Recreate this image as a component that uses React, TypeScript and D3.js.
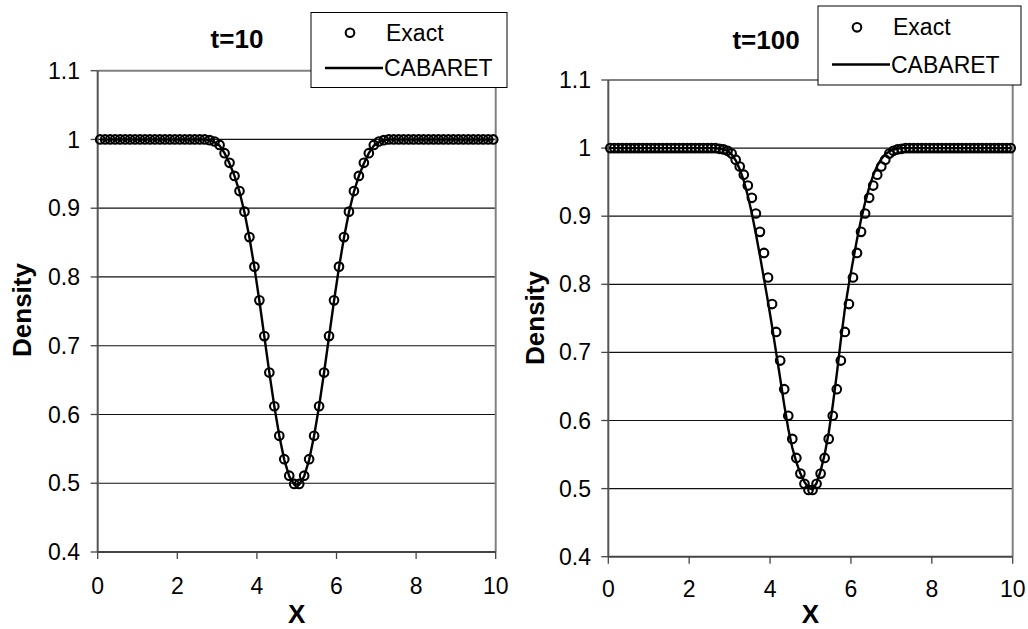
import React from "react";
import * as d3 from "d3";

// ---------- data ----------
const xTickValues = [0, 2, 4, 6, 8, 10];
const yTickValues = [0.4, 0.5, 0.6, 0.7, 0.8, 0.9, 1.0, 1.1];
const yTickLabels = ["0.4", "0.5", "0.6", "0.7", "0.8", "0.9", "1", "1.1"];
const gridValues = [0.5, 0.6, 0.7, 0.8, 0.9, 1.0];

// t=10 : 80 cells, dx = 0.125
const xT10 = d3.range(80).map((i) => 0.0625 + 0.125 * i);
const exactT10 = [
  1, 1, 1, 1, 1, 1, 1, 1, 1, 1, 1, 1, 1, 1, 1, 1, 1, 1, 1, 1, 1, 1,
  0.999, 0.997, 0.992, 0.98, 0.966, 0.947, 0.925, 0.895, 0.858, 0.815, 0.766, 0.714, 0.661, 0.612, 0.569, 0.535, 0.511, 0.499,
  0.499, 0.511, 0.535, 0.569, 0.612, 0.661, 0.714, 0.766, 0.815, 0.858, 0.895, 0.925, 0.947, 0.966, 0.98, 0.992, 0.997, 0.999,
  1, 1, 1, 1, 1, 1, 1, 1, 1, 1, 1, 1, 1, 1, 1, 1, 1, 1, 1, 1, 1, 1,
];
const cabaretT10 = [
  1, 1, 1, 1, 1, 1, 1, 1, 1, 1, 1, 1, 1, 1, 1, 1, 1, 1, 1, 1, 1, 1,
  0.999, 0.996, 0.991, 0.98, 0.965, 0.947, 0.924, 0.894, 0.857, 0.814, 0.765, 0.713, 0.661, 0.612, 0.569, 0.534, 0.51, 0.498,
  0.498, 0.51, 0.534, 0.569, 0.612, 0.661, 0.713, 0.765, 0.814, 0.857, 0.894, 0.924, 0.947, 0.965, 0.98, 0.991, 0.996, 0.999,
  1, 1, 1, 1, 1, 1, 1, 1, 1, 1, 1, 1, 1, 1, 1, 1, 1, 1, 1, 1, 1, 1,
];

// t=100 : 100 cells, dx = 0.1
const xT100 = d3.range(100).map((i) => 0.05 + 0.1 * i);
const exactT100 = [
  1, 1, 1, 1, 1, 1, 1, 1, 1, 1, 1, 1, 1, 1, 1, 1, 1, 1, 1, 1, 1, 1, 1, 1, 1, 1, 1,
  0.999, 0.998, 0.996, 0.992, 0.983, 0.973, 0.961, 0.945, 0.927, 0.904, 0.877, 0.846, 0.81, 0.771, 0.73, 0.688, 0.646, 0.607, 0.573, 0.545, 0.522, 0.507, 0.498,
  0.498, 0.507, 0.522, 0.545, 0.573, 0.607, 0.646, 0.688, 0.73, 0.771, 0.81, 0.846, 0.877, 0.904, 0.927, 0.945, 0.961, 0.973, 0.983, 0.992, 0.996, 0.998, 0.999,
  1, 1, 1, 1, 1, 1, 1, 1, 1, 1, 1, 1, 1, 1, 1, 1, 1, 1, 1, 1, 1, 1, 1, 1, 1, 1, 1,
];
const cabaretT100 = [
  1, 1, 1, 1, 1, 1, 1, 1, 1, 1, 1, 1, 1, 1, 1, 1, 1, 1, 1, 1, 1, 1, 1, 1, 1, 1, 1,
  0.999, 0.998, 0.996, 0.991, 0.982, 0.969, 0.952, 0.93, 0.904, 0.874, 0.842, 0.808, 0.774, 0.738, 0.7, 0.662, 0.623, 0.588, 0.56, 0.539, 0.522, 0.51, 0.501,
  0.499, 0.508, 0.526, 0.55, 0.582, 0.622, 0.668, 0.718, 0.764, 0.801, 0.834, 0.866, 0.895, 0.92, 0.942, 0.96, 0.974, 0.984, 0.991, 0.995, 0.998, 0.999,
  1, 1, 1, 1, 1, 1, 1, 1, 1, 1, 1, 1, 1, 1, 1, 1, 1, 1, 1, 1, 1, 1, 1, 1, 1, 1, 1, 1,
];

const legendLabels = ["Exact", "CABARET"];
const titles = ["t=10", "t=100"];
const xAxisTitle = "X";
const yAxisTitle = "Density";

const FONT = "'Liberation Sans', Arial, Helvetica, sans-serif";

type PanelProps = {
  title: string;
  xs: number[];
  exact: number[];
  cabaret: number[];
  x0: number;
  x1: number;
  y0: number;
  y1: number;
  titleX: number;
  titleY: number;
  legend: { x: number; y: number; w: number; h: number };
  densityX: number;
  densityY: number;
  xTitleY: number;
  tickLabelY: number;
  yLabelRight: number;
};

function Panel(p: PanelProps) {
  const x = d3.scaleLinear().domain([0, 10]).range([p.x0, p.x1]);
  const y = d3.scaleLinear().domain([0.4, 1.1]).range([p.y0, p.y1]);
  const line = d3
    .line<number>()
    .x((_, i) => x(p.xs[i]))
    .y((d) => y(d));
  const lg = p.legend;
  return (
    <g>
      {gridValues.map((v) => (
        <line key={"g" + v} x1={p.x0} x2={p.x1} y1={y(v)} y2={y(v)} stroke="#111" strokeWidth={1.2} />
      ))}
      <line x1={p.x0} x2={p.x1} y1={y(1.1)} y2={y(1.1)} stroke="#808080" strokeWidth={2} />
      <line x1={p.x1} x2={p.x1} y1={y(1.1)} y2={y(0.4)} stroke="#808080" strokeWidth={2} />
      <line x1={p.x0} x2={p.x0} y1={y(1.1)} y2={y(0.4)} stroke="#555" strokeWidth={2} />
      <line x1={p.x0} x2={p.x1} y1={y(0.4)} y2={y(0.4)} stroke="#444" strokeWidth={2} />
      {yTickValues.map((v, i) => (
        <g key={"yt" + v}>
          <line x1={p.x0 - 7} x2={p.x0} y1={y(v)} y2={y(v)} stroke="#444" strokeWidth={1.3} />
          <text
            x={p.yLabelRight}
            y={y(v)}
            dy="0.35em"
            textAnchor="end"
            fontFamily={FONT}
            fontSize={23}
            fill="#000"
          >
            {yTickLabels[i]}
          </text>
        </g>
      ))}
      {xTickValues.map((v) => (
        <g key={"xt" + v}>
          <line x1={x(v)} x2={x(v)} y1={y(0.4)} y2={y(0.4) + 7} stroke="#444" strokeWidth={1.3} />
          <text x={x(v)} y={p.tickLabelY} textAnchor="middle" fontFamily={FONT} fontSize={23} fill="#000">
            {v}
          </text>
        </g>
      ))}
      <path d={line(p.cabaret) || ""} fill="none" stroke="#000" strokeWidth={2.4} />
      {p.exact.map((v, i) => (
        <circle key={"c" + i} cx={x(p.xs[i])} cy={y(v)} r={4.3} fill="none" stroke="#000" strokeWidth={2.1} />
      ))}
      <text x={p.titleX} y={p.titleY} textAnchor="middle" fontFamily={FONT} fontWeight="bold" fontSize={26}>
        {p.title}
      </text>
      <text
        x={(p.x0 + p.x1) / 2}
        y={p.xTitleY}
        textAnchor="middle"
        fontFamily={FONT}
        fontWeight="bold"
        fontSize={26}
      >
        {xAxisTitle}
      </text>
      <text
        transform={`translate(${p.densityX},${p.densityY}) rotate(-90)`}
        textAnchor="middle"
        fontFamily={FONT}
        fontWeight="bold"
        fontSize={26}
      >
        {yAxisTitle}
      </text>
      <rect x={lg.x} y={lg.y} width={lg.w} height={lg.h} fill="#fff" stroke="#000" strokeWidth={1} />
      <circle cx={lg.x + 39} cy={lg.y + lg.h * 0.27} r={4.3} fill="none" stroke="#000" strokeWidth={2.1} />
      <text x={lg.x + 75} y={lg.y + lg.h * 0.27} dy="0.35em" fontFamily={FONT} fontSize={23}>
        {legendLabels[0]}
      </text>
      <line
        x1={lg.x + 14}
        x2={lg.x + 72}
        y1={lg.y + lg.h * 0.74}
        y2={lg.y + lg.h * 0.74}
        stroke="#000"
        strokeWidth={2.4}
      />
      <text x={lg.x + 73} y={lg.y + lg.h * 0.74} dy="0.35em" fontFamily={FONT} fontSize={23}>
        {legendLabels[1]}
      </text>
    </g>
  );
}

export default function App() {
  return (
    <div style={{ position: "fixed", left: 0, top: 0 }}>
      <svg width={1028} height={629} style={{ display: "block", background: "#fff" }}>
        <Panel
          title={titles[0]}
          xs={xT10}
          exact={exactT10}
          cabaret={cabaretT10}
          x0={97.7}
          x1={495.7}
          y0={552}
          y1={70.7}
          titleX={237}
          titleY={48}
          legend={{ x: 311, y: 12.5, w: 196, h: 75 }}
          densityX={31}
          densityY={310}
          xTitleY={623}
          tickLabelY={594}
          yLabelRight={80}
        />
        <Panel
          title={titles[1]}
          xs={xT100}
          exact={exactT100}
          cabaret={cabaretT100}
          x0={608.3}
          x1={1012.7}
          y0={556.7}
          y1={80}
          titleX={766}
          titleY={49}
          legend={{ x: 818, y: 6, w: 203, h: 79 }}
          densityX={544}
          densityY={318}
          xTitleY={623}
          tickLabelY={597}
          yLabelRight={591}
        />
      </svg>
    </div>
  );
}
